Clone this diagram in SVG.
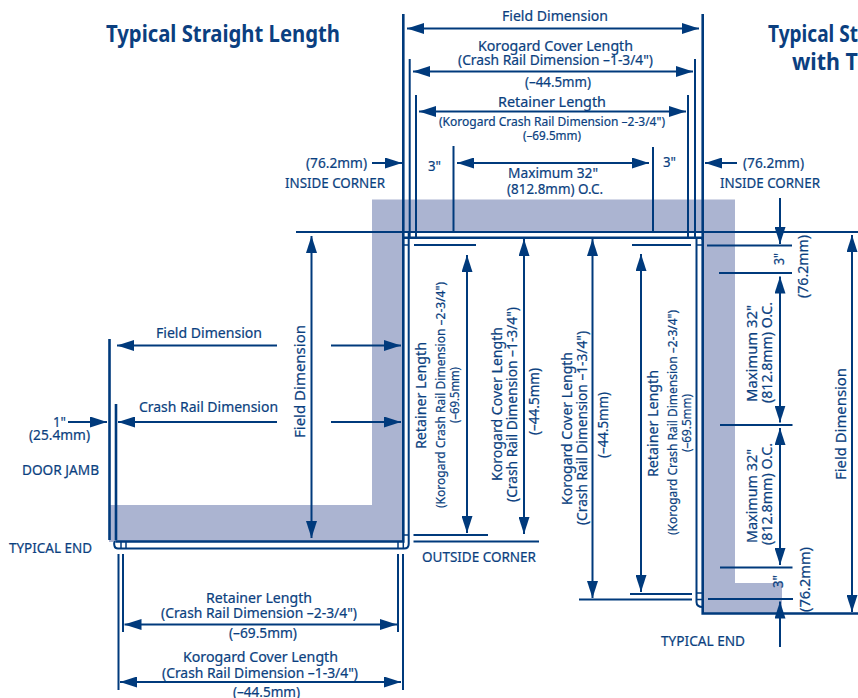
<svg xmlns="http://www.w3.org/2000/svg" width="858" height="698" viewBox="0 0 858 698">
<style>
text{font-family:"Noto Sans","Open Sans","Liberation Sans",sans-serif;fill:#0b3f80;stroke:#0b3f80;stroke-width:.22;font-size:14.800px}
.t{font-size:23px;font-weight:700;stroke:none}
.s{font-size:13.800px}
.x{font-size:13.200px}
.c{font-size:14.200px}
.l{fill:none;stroke:#003a7c;stroke-width:2}
.k{fill:none;stroke:#003a7c;stroke-width:2.600}
.f{fill:none;stroke:#003a7c;stroke-width:1.500}
.a{fill:none;stroke:#003a7c;stroke-width:2;marker-end:url(#h)}
.d{fill:none;stroke:#003a7c;stroke-width:2;marker-end:url(#h);marker-start:url(#h)}
</style>
<defs>
<marker id="h" markerUnits="userSpaceOnUse" viewBox="0 0 17 11" refX="17" refY="5.500" markerWidth="17" markerHeight="11" orient="auto-start-reverse"><path d="M0 0L17 5.500L0 11Z" fill="#003a7c"/></marker>
</defs>
<rect width="858" height="698" fill="#fff"/>
<polygon id="wall-band" points="372,199.500 735,199.500 735,583 782,583 782,613 703,613 703,232 403,232 403,542 109,542 109,505 372,505" fill="#abb4d1"/>

<g id="rail-profile">
<path class="k" d="M403.300 237.800H702.700V613.500H858"/>
<path class="k" d="M403.300 14V541.500H115.500"/>
<path class="l" d="M115.500 541.500Q113.500 541.500 114.500 546Q115 548.500 118 548.500H404Q408.700 548.500 408.700 544V232"/>
<path class="f" d="M121 541.500V548.500M126 541.500V548.500M398 541.500V548.500M403.300 541.500V548.500M403.300 535H408.700M403.300 245H408.700"/>
<path class="l" d="M696.500 238V602Q696.500 607 703 607"/>
<path class="f" d="M696.500 245H702.700M696.500 593H702.700M696.500 599.500H702.700"/>
<path class="k" d="M702.700 14V240"/>
</g>

<g id="extension-lines">
<path class="l" d="M296 232H858"/>
<path class="l" d="M409.700 59V238M416 95V238M453.500 146V232M653 147V232M688 95V238M695 59V238"/>
<path class="k" d="M109.500 339V540M116 404V540"/>
<path class="l" d="M118.500 554V690M123 554V632M398 554V632M403 554V690"/>
<path class="l" d="M414 245H476M632 245H691M707 245.500H792M719 273H792M720 425H792.500M720 567.500H792.500M708 599H793M579 599.500H692M630 594H692M413.500 535H488M413.500 541.500H539"/>
</g>

<g id="connectors">
<path class="d" d="M407 28.500H699"/>
<path class="d" d="M413 71.500H693"/>
<path class="d" d="M419 111.500H686"/>
<path class="d" d="M457 163H649"/>
<path class="a" d="M372 163H402"/>
<path class="a" d="M737 163H705"/>
<path class="a" d="M277 345.500H117"/>
<path class="a" d="M331 345.500H401"/>
<path class="a" d="M277 422H118"/>
<path class="a" d="M331 422H401"/>
<path class="a" d="M68 422H107"/>
<path class="d" d="M124.500 624.500H397"/>
<path class="d" d="M120 682H401"/>
<path class="d" d="M311.500 236V538"/>
<path class="d" d="M467 255V533"/>
<path class="d" d="M524 239V534"/>
<path class="d" d="M592.500 239V598"/>
<path class="d" d="M641 254V592"/>
<path class="a" d="M780 198V244"/>
<path class="d" d="M780 276.500V422.500"/>
<path class="d" d="M780 428V565"/>
<path class="a" d="M780 647V601.500"/>
<path class="d" d="M852 235V612"/>
</g>

<g id="labels">
<text class="t" x="106" y="42" textLength="234" lengthAdjust="spacingAndGlyphs">Typical Straight Length</text>
<text class="t" x="768" y="42" textLength="90" lengthAdjust="spacingAndGlyphs">Typical St</text>
<text class="t" x="792" y="70" textLength="66" lengthAdjust="spacingAndGlyphs">with T</text>

<text x="502" y="21" textLength="106" lengthAdjust="spacingAndGlyphs">Field Dimension</text>
<text x="478" y="51" textLength="155" lengthAdjust="spacingAndGlyphs">Korogard Cover Length</text>
<text class="s" x="458" y="65" textLength="195" lengthAdjust="spacingAndGlyphs">(Crash Rail Dimension –1-3/4")</text>
<text class="s" x="525" y="87" textLength="66" lengthAdjust="spacingAndGlyphs">(–44.5mm)</text>
<text x="498" y="107" textLength="108" lengthAdjust="spacingAndGlyphs">Retainer Length</text>
<text class="x" x="439" y="126" textLength="226" lengthAdjust="spacingAndGlyphs">(Korogard Crash Rail Dimension –2-3/4")</text>
<text class="x" x="523" y="140" textLength="58" lengthAdjust="spacingAndGlyphs">(–69.5mm)</text>
<text x="428" y="171" textLength="13" lengthAdjust="spacingAndGlyphs">3"</text>
<text x="663" y="167" textLength="13" lengthAdjust="spacingAndGlyphs">3"</text>
<text x="508" y="178" textLength="90" lengthAdjust="spacingAndGlyphs">Maximum 32"</text>
<text x="507" y="194" textLength="96" lengthAdjust="spacingAndGlyphs">(812.8mm) O.C.</text>
<text x="306" y="168" textLength="61" lengthAdjust="spacingAndGlyphs">(76.2mm)</text>
<text class="c" x="285" y="188" textLength="100" lengthAdjust="spacingAndGlyphs">INSIDE CORNER</text>
<text x="743" y="168" textLength="61" lengthAdjust="spacingAndGlyphs">(76.2mm)</text>
<text class="c" x="720" y="188" textLength="100" lengthAdjust="spacingAndGlyphs">INSIDE CORNER</text>

<text x="156" y="338" textLength="106" lengthAdjust="spacingAndGlyphs">Field Dimension</text>
<text x="139" y="412" textLength="139" lengthAdjust="spacingAndGlyphs">Crash Rail Dimension</text>
<text x="53" y="427" textLength="13" lengthAdjust="spacingAndGlyphs">1"</text>
<text class="s" x="29" y="440" textLength="61" lengthAdjust="spacingAndGlyphs">(25.4mm)</text>
<text class="c" x="22" y="475" textLength="77" lengthAdjust="spacingAndGlyphs">DOOR JAMB</text>
<text class="c" x="9" y="552.500" textLength="83" lengthAdjust="spacingAndGlyphs">TYPICAL END</text>
<text x="206" y="603" textLength="106" lengthAdjust="spacingAndGlyphs">Retainer Length</text>
<text class="s" x="161" y="617.500" textLength="196" lengthAdjust="spacingAndGlyphs">(Crash Rail Dimension –2-3/4")</text>
<text class="s" x="229" y="638" textLength="68" lengthAdjust="spacingAndGlyphs">(–69.5mm)</text>
<text x="183" y="662" textLength="155" lengthAdjust="spacingAndGlyphs">Korogard Cover Length</text>
<text class="s" x="162" y="677.500" textLength="196" lengthAdjust="spacingAndGlyphs">(Crash Rail Dimension –1-3/4")</text>
<text class="s" x="233" y="697" textLength="67" lengthAdjust="spacingAndGlyphs">(–44.5mm)</text>
<text class="c" x="422" y="562" textLength="114" lengthAdjust="spacingAndGlyphs">OUTSIDE CORNER</text>
<text class="c" x="661" y="645.500" textLength="84" lengthAdjust="spacingAndGlyphs">TYPICAL END</text>

<text transform="translate(305 438) rotate(-90)" textLength="113" lengthAdjust="spacingAndGlyphs">Field Dimension</text>
<text transform="translate(426 449) rotate(-90)" textLength="107" lengthAdjust="spacingAndGlyphs">Retainer Length</text>
<text class="x" transform="translate(445 508) rotate(-90)" textLength="226" lengthAdjust="spacingAndGlyphs">(Korogard Crash Rail Dimension –2-3/4")</text>
<text class="x" transform="translate(459 423) rotate(-90)" textLength="56" lengthAdjust="spacingAndGlyphs">(–69.5mm)</text>
<text transform="translate(502 481) rotate(-90)" textLength="154" lengthAdjust="spacingAndGlyphs">Korogard Cover Length</text>
<text class="s" transform="translate(517 502) rotate(-90)" textLength="195" lengthAdjust="spacingAndGlyphs">(Crash Rail Dimension –1-3/4")</text>
<text class="s" transform="translate(539 435) rotate(-90)" textLength="67" lengthAdjust="spacingAndGlyphs">(–44.5mm)</text>
<text transform="translate(572 505) rotate(-90)" textLength="153" lengthAdjust="spacingAndGlyphs">Korogard Cover Length</text>
<text class="s" transform="translate(587 525) rotate(-90)" textLength="194" lengthAdjust="spacingAndGlyphs">(Crash Rail Dimension –1-3/4")</text>
<text class="s" transform="translate(608 458) rotate(-90)" textLength="66" lengthAdjust="spacingAndGlyphs">(–44.5mm)</text>
<text transform="translate(658 477) rotate(-90)" textLength="107" lengthAdjust="spacingAndGlyphs">Retainer Length</text>
<text class="x" transform="translate(677 535) rotate(-90)" textLength="225" lengthAdjust="spacingAndGlyphs">(Korogard Crash Rail Dimension –2-3/4")</text>
<text class="x" transform="translate(691 452) rotate(-90)" textLength="58" lengthAdjust="spacingAndGlyphs">(–69.5mm)</text>

<text transform="translate(756.500 402) rotate(-90)" textLength="97" lengthAdjust="spacingAndGlyphs">Maximum 32"</text>
<text transform="translate(771.500 403) rotate(-90)" textLength="101" lengthAdjust="spacingAndGlyphs">(812.8mm) O.C.</text>
<text transform="translate(756.500 543) rotate(-90)" textLength="94" lengthAdjust="spacingAndGlyphs">Maximum 32"</text>
<text transform="translate(771.500 545) rotate(-90)" textLength="102" lengthAdjust="spacingAndGlyphs">(812.8mm) O.C.</text>
<text transform="translate(845.500 480) rotate(-90)" textLength="112" lengthAdjust="spacingAndGlyphs">Field Dimension</text>
<text transform="translate(784 265) rotate(-90)" textLength="12" lengthAdjust="spacingAndGlyphs">3"</text>
<text transform="translate(808 298) rotate(-90)" textLength="63" lengthAdjust="spacingAndGlyphs">(76.2mm)</text>
<text transform="translate(783 588) rotate(-90)" textLength="13" lengthAdjust="spacingAndGlyphs">3"</text>
<text transform="translate(810 612) rotate(-90)" textLength="65" lengthAdjust="spacingAndGlyphs">(76.2mm)</text>
</g>
</svg>
